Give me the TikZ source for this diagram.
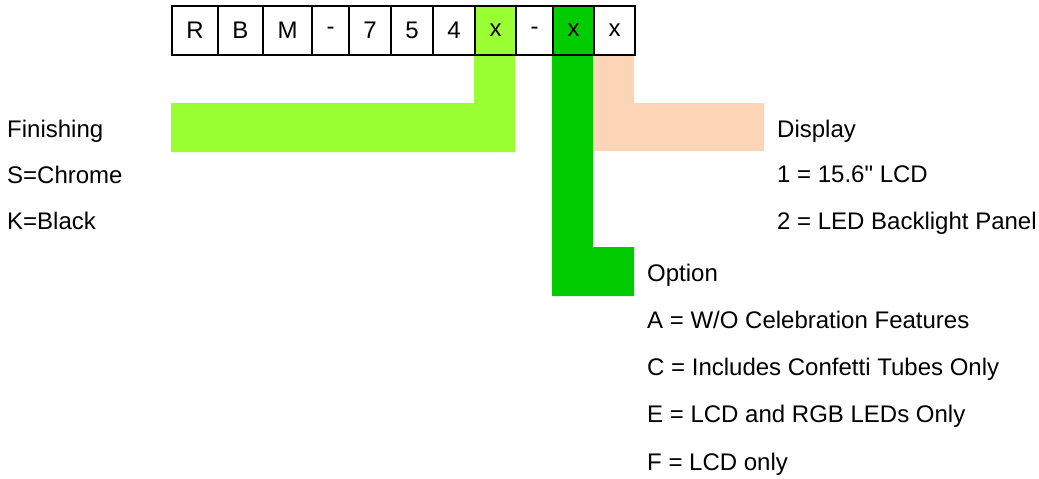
\documentclass[tikz,border=0pt]{standalone}
\usepackage{fontspec}
\setmainfont{Liberation Sans}[Ligatures=TeXOff]
\definecolor{lgreen}{HTML}{99FF33}
\definecolor{dgreen}{HTML}{00CC00}
\definecolor{peach}{HTML}{FBD5B5}
\begin{document}
\begin{tikzpicture}[x=1pt,y=-1pt,
  cell/.style={draw=black,line width=2pt,minimum height=49pt,inner sep=0pt,anchor=north west,font=\fontsize{24}{28}\selectfont},
  lbl/.style={anchor=base west,inner sep=0pt,font=\fontsize{24}{28}\selectfont}]
\useasboundingbox (0,0) rectangle (1039,479);
% coloured bars
\fill[lgreen] (474,5) -- (515,5) -- (515,152) -- (171,152) -- (171,103) -- (474,103) -- cycle;
\fill[peach] (593,54) -- (634,54) -- (634,103) -- (764,103) -- (764,151) -- (593,151) -- cycle;
\fill[dgreen] (552,5) -- (593,5) -- (593,247) -- (634,247) -- (634,296) -- (552,296) -- cycle;
% code cells
\node[cell,minimum width=46pt] (c1) at (171,5) {R};
\node[cell,minimum width=45pt] (c2) at (217,5) {B};
\node[cell,minimum width=49pt] (c3) at (262,5) {M};
\node[cell,minimum width=37pt] (c4) at (311,5) {-};
\node[cell,minimum width=42pt] (c5) at (348,5) {7};
\node[cell,minimum width=42pt] (c6) at (390,5) {5};
\node[cell,minimum width=42pt] (c7) at (432,5) {4};
\node[cell,minimum width=41pt] (c8) at (474,5) {x};
\node[cell,minimum width=37pt] (c9) at (515,5) {-};
\node[cell,minimum width=41pt] (c10) at (552,5) {x};
\node[cell,minimum width=41pt] (c11) at (593,5) {x};
% labels
\node[lbl] (fin) at (7,137) {Finishing};
\node[lbl] (fs) at (7,183) {S=Chrome};
\node[lbl] (fk) at (7,229) {K=Black};
\node[lbl] (dis) at (777,137) {Display};
\node[lbl] (d1) at (777,182) {1 = 15.6" LCD};
\node[lbl] (d2) at (777,229) {2 = LED Backlight Panel};
\node[lbl] (opt) at (647,281) {Option};
\node[lbl] (oa) at (647,328) {A = W/O Celebration Features};
\node[lbl] (oc) at (647,375) {C = Includes Confetti Tubes Only};
\node[lbl] (oe) at (647,422) {E = LCD and RGB LEDs Only};
\node[lbl] (of) at (647,470) {F = LCD only};
\end{tikzpicture}
\end{document}
